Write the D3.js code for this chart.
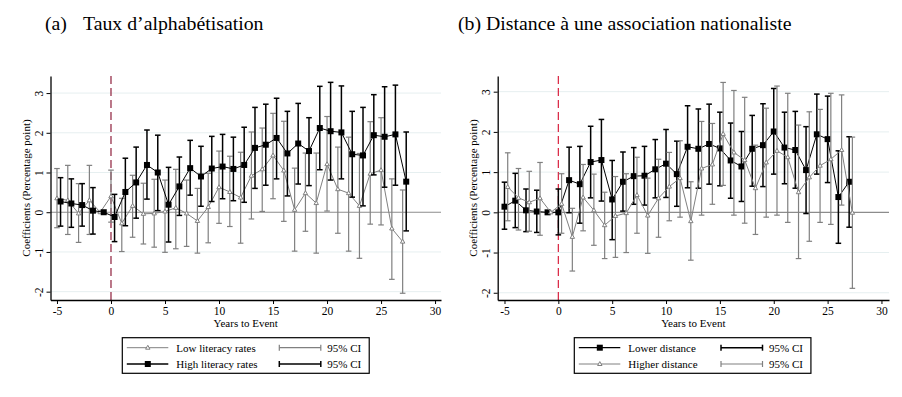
<!DOCTYPE html>
<html>
<head>
<meta charset="utf-8">
<script src="https://cdn.jsdelivr.net/npm/d3@7"></script>
<style>
  body { margin: 0; background: #fff; }
  text { font-family: "Liberation Serif", "Times New Roman", serif; fill: #000; }
</style>
</head>
<body>
<script>
// Years relative to the event (shared by all series)
const years = [-5, -4, -3, -2, -1, 0, 1, 2, 3, 4, 5, 6, 7, 8, 9, 10, 11, 12, 13, 14, 15, 16, 17, 18, 19, 20, 21, 22, 23, 24, 25, 26, 27]

// (a) Low literacy rates (gray)
const litLowCoef = [0.35, 0.30, -0.03, 0.30, 0, 0.40, -0.28, 0.16, -0.04, -0.03, 0.02, 0.11, -0.03, -0.22, 0.13, 0.63, 0.51, 0.37, 0.92, 1.08, 1.43, 1.05, 0.06, 0.48, 0.23, 1.21, 0.58, 0.48, 0.16, 0.97, 1.06, -0.41, -0.74]
const litLowHi = [1.10, 1.18, 0.72, 1.18, null, 1.06, 0.35, 0.93, 0.73, 0.83, 0.81, 1.08, 0.81, 0.60, 0.98, 1.54, 1.41, 1.51, 2.02, 2.12, 2.49, 2.29, 1.11, 1.49, 1.49, 2.41, 1.64, 1.89, 1.48, 2.28, 2.38, 0.84, 0.56]
const litLowLo = [-0.39, -0.56, -0.76, -0.56, null, -0.25, -0.99, -0.63, -0.80, -0.88, -1.01, -0.92, -0.86, -1.03, -0.77, -0.28, -0.36, -0.78, -0.17, 0.02, 0.34, -0.23, -0.98, -0.48, -1.03, 0.03, -0.53, -0.98, -1.16, -0.30, -0.32, -1.69, -2.04]

// (a) High literacy rates (black)
const litHighCoef = [0.27, 0.22, 0.18, 0.04, 0, -0.12, 0.51, 0.75, 1.19, 1.00, 0.19, 0.65, 1.11, 0.90, 1.10, 1.15, 1.09, 1.19, 1.62, 1.70, 1.87, 1.48, 1.73, 1.54, 2.12, 2.04, 2.01, 1.46, 1.43, 1.94, 1.90, 1.96, 0.77]
const litHighHi = [0.87, 0.84, 0.72, 0.62, null, 0.45, 1.36, 1.64, 2.07, 1.94, 1.13, 1.39, 1.81, 1.66, 1.91, 1.96, 1.89, 2.14, 2.64, 2.72, 2.87, 2.54, 2.74, 2.38, 3.17, 3.27, 3.18, 2.54, 2.64, 2.96, 3.16, 3.20, 2.02]
const litHighLo = [-0.35, -0.38, -0.35, -0.55, null, -0.74, -0.34, -0.15, 0.33, 0.04, -0.75, -0.08, 0.43, 0.15, 0.27, 0.34, 0.29, 0.25, 0.60, 0.68, 0.84, 0.41, 0.71, 0.67, 1.07, 0.81, 0.84, 0.38, 0.16, 0.94, 0.63, 0.68, -0.47]

// (b) Lower distance (black)
const distLowCoef = [0.14, 0.29, 0.05, 0.02, 0, 0, 0.80, 0.70, 1.25, 1.30, 0.32, 0.76, 0.90, 0.91, 1.07, 1.21, 0.95, 1.63, 1.58, 1.70, 1.59, 1.29, 1.14, 1.58, 1.67, 2.01, 1.61, 1.55, 1.05, 1.94, 1.82, 0.38, 0.76]
const distLowHi = [0.75, 0.97, 0.58, 0.55, null, 0.58, 1.62, 1.64, 2.14, 2.31, 1.29, 1.50, 1.61, 1.64, 1.81, 2.06, 1.77, 2.65, 2.57, 2.69, 2.49, 2.22, 2.01, 2.41, 2.70, 3.08, 2.49, 2.51, 2.13, 2.94, 2.89, 1.53, 1.88]
const distLowLo = [-0.42, -0.38, -0.48, -0.50, null, -0.56, -0.01, -0.27, 0.36, 0.28, -0.68, 0.03, 0.20, 0.18, 0.36, 0.37, 0.15, 0.61, 0.60, 0.70, 0.66, 0.35, 0.27, 0.65, 0.64, 0.95, 0.71, 0.60, -0.03, 0.95, 0.74, -0.77, -0.37]

// (b) Higher distance (gray)
const distHighCoef = [0.63, 0.36, 0.25, 0.35, 0, 0.21, -0.61, 0.37, 0.05, -0.32, -0.09, -0.02, 0.43, -0.08, 0.35, 0.64, 0.85, -0.22, 1.09, 1.19, 1.95, 1.49, 1.30, 0.60, 1.24, 1.53, 1.37, 0.50, 0.87, 1.16, 1.32, 1.55, -0.01]
const distHighHi = [1.48, 1.09, 1.02, 1.24, null, 0.96, 0.10, 1.19, 0.95, 0.50, 0.89, 0.96, 1.37, 0.85, 1.32, 1.49, 1.78, 0.76, 2.26, 2.21, 3.23, 3.03, 2.86, 1.67, 2.59, 3.14, 2.96, 2.17, 2.50, 2.56, 2.96, 2.92, 1.87]
const distHighLo = [-0.21, -0.44, -0.47, -0.57, null, -0.52, -1.46, -0.46, -0.82, -1.15, -1.12, -1.00, -0.52, -1.02, -0.62, -0.21, -0.12, -1.19, -0.07, 0.20, 0.67, -0.07, -0.27, -0.55, -0.12, -0.07, -0.25, -1.15, -0.72, -0.25, -0.30, 0.18, -1.89]

const xTicks = [-5, 0, 5, 10, 15, 20, 25, 30]
const yTicks = [-2, -1, 0, 1, 2, 3]

const gray = '#808080'
const fmt = d => String(d)

const svg = d3.select('body').append('svg').attr('width', 902).attr('height', 397)

function panel(p) {
	const x = d3.scaleLinear().domain(p.xDomain).range(p.xRange)
	const y = d3.scaleLinear().domain(p.yDomain).range([300, 76])
	const g = svg.append('g')

	// title
	const t = g.append('text').attr('y', 30).style('font-size', '19.8px')
	p.title.forEach(s => t.append('tspan').attr('x', s.x).text(s.t))

	// grid lines
	g.selectAll('.grid').data(yTicks.filter(d => d !== 0)).join('line')
		.attr('x1', p.xRange[0]).attr('x2', p.xRange[1])
		.attr('y1', d => y(d)).attr('y2', d => y(d))
		.attr('stroke', '#e6eff0').attr('stroke-width', 1)
	// zero line
	g.append('line').attr('x1', p.xRange[0]).attr('x2', p.xRange[1])
		.attr('y1', y(0)).attr('y2', y(0)).attr('stroke', '#8c8c8c').attr('stroke-width', 1.1)

	// event line
	g.append('line').attr('x1', x(0)).attr('x2', x(0)).attr('y1', 76).attr('y2', 300)
		.attr('stroke', p.eventColor).attr('stroke-width', 1.2).attr('stroke-dasharray', '8,4')

	// axes
	const xa = g.append('g').attr('transform', 'translate(0,300)')
		.call(d3.axisBottom(x).tickValues(xTicks).tickFormat(fmt).tickSize(4).tickSizeOuter(0))
	xa.select('.domain').attr('stroke', '#000').attr('stroke-width', 1.3)
	xa.selectAll('.tick line').attr('stroke', '#000')
	xa.selectAll('.tick text').attr('y', 7).style('font-size', '11.5px').style('font-family', '"Liberation Serif", serif')

	const ya = g.append('g').attr('transform', `translate(${p.xRange[0]},0)`)
		.call(d3.axisLeft(y).tickValues(yTicks).tickFormat(fmt).tickSize(4).tickSizeOuter(0))
	ya.select('.domain').attr('stroke', '#000').attr('stroke-width', 1.3)
	ya.selectAll('.tick line').attr('stroke', '#000')
	ya.selectAll('.tick text')
		.attr('x', null).attr('dy', null)
		.attr('transform', 'translate(-8,0) rotate(-90)')
		.attr('text-anchor', 'middle').attr('y', 0)
		.style('font-size', '11.5px').style('font-family', '"Liberation Serif", serif')

	// axis titles
	g.append('text').attr('x', (p.xRange[0] + p.xRange[1]) / 2).attr('y', 327)
		.attr('text-anchor', 'middle').style('font-size', '11px').text('Years to Event')
	g.append('text').attr('transform', `translate(${p.xRange[0] - 20.5},188) rotate(-90)`)
		.attr('text-anchor', 'middle').style('font-size', '11px').text('Coefficients (Percentage point)')

	// series
	p.series.forEach(s => {
		const pts = years.map((yr, i) => ({ x: yr + s.offset, c: s.coef[i], hi: s.hi[i], lo: s.lo[i] }))
		const sg = g.append('g')
		const ci = pts.filter(d => d.hi !== null)
		sg.selectAll('.bar').data(ci).join('line')
			.attr('x1', d => x(d.x)).attr('x2', d => x(d.x))
			.attr('y1', d => y(d.hi)).attr('y2', d => y(d.lo))
			.attr('stroke', s.color).attr('stroke-width', s.barWidth)
		sg.selectAll('.capHi').data(ci).join('line')
			.attr('x1', d => x(d.x) - 2.8).attr('x2', d => x(d.x) + 2.8)
			.attr('y1', d => y(d.hi)).attr('y2', d => y(d.hi))
			.attr('stroke', s.color).attr('stroke-width', s.barWidth)
		sg.selectAll('.capLo').data(ci).join('line')
			.attr('x1', d => x(d.x) - 2.8).attr('x2', d => x(d.x) + 2.8)
			.attr('y1', d => y(d.lo)).attr('y2', d => y(d.lo))
			.attr('stroke', s.color).attr('stroke-width', s.barWidth)
		sg.append('path').datum(pts)
			.attr('d', d3.line().x(d => x(d.x)).y(d => y(d.c)))
			.attr('fill', 'none').attr('stroke', s.color).attr('stroke-width', 1)
		drawMarkers(sg, pts.map(d => [x(d.x), y(d.c)]), s)
	})

	// legend
	const lg = g.append('g')
	const box = lg.append('rect').attr('x', p.legX).attr('y', 337.7).attr('height', 35.6)
		.attr('fill', '#fff').attr('stroke', '#000').attr('stroke-width', 1.2)
	let right = 0
	p.legend.forEach((s, i) => {
		const ly = 347.7 + i * 16.3
		lg.append('line').attr('x1', p.legX + 4.5).attr('x2', p.legX + 46).attr('y1', ly).attr('y2', ly)
			.attr('stroke', s.color).attr('stroke-width', s.marker === 'square' ? 1.3 : 1)
		drawMarkers(lg, [[p.legX + 25.5, ly]], s)
		lg.append('text').attr('x', p.legX + 54).attr('y', ly + 4).style('font-size', '11px').text(s.label)
		lg.append('line').attr('x1', p.legX + p.ciX).attr('x2', p.legX + p.ciX + 41.5).attr('y1', ly).attr('y2', ly)
			.attr('stroke', s.color).attr('stroke-width', s.barWidth)
		;[0, 41.5].forEach(dx => lg.append('line')
			.attr('x1', p.legX + p.ciX + dx).attr('x2', p.legX + p.ciX + dx).attr('y1', ly - 3).attr('y2', ly + 3)
			.attr('stroke', s.color).attr('stroke-width', s.barWidth))
		const ct = lg.append('text').attr('x', p.legX + p.ciX + 48).attr('y', ly + 4).style('font-size', '11px').text('95% CI')
		right = Math.max(right, p.legX + p.ciX + 48 + ct.node().getComputedTextLength())
	})
	box.attr('width', right + 8 - p.legX)
}

function drawMarkers(sel, pts, s) {
	if (s.marker === 'square') {
		sel.selectAll(null).data(pts).join('rect')
			.attr('x', d => d[0] - 3).attr('y', d => d[1] - 3).attr('width', 6).attr('height', 6)
			.attr('fill', s.color)
	} else {
		sel.selectAll(null).data(pts).join('path')
			.attr('d', d => `M${d[0]},${d[1] - 2.4}L${d[0] + 2.2},${d[1] + 1.5}L${d[0] - 2.2},${d[1] + 1.5}Z`)
			.attr('fill', '#fff').attr('stroke', s.color).attr('stroke-width', 1)
	}
}

const litLow = { label: 'Low literacy rates', coef: litLowCoef, hi: litLowHi, lo: litLowLo, offset: 0, color: gray, marker: 'triangle', barWidth: 1.2 }
const litHigh = { label: 'High literacy rates', coef: litHighCoef, hi: litHighHi, lo: litHighLo, offset: 0.33, color: '#000', marker: 'square', barWidth: 1.5 }
const distLow = { label: 'Lower distance', coef: distLowCoef, hi: distLowHi, lo: distLowLo, offset: 0, color: '#000', marker: 'square', barWidth: 1.5 }
const distHigh = { label: 'Higher distance', coef: distHighCoef, hi: distHighHi, lo: distHighLo, offset: 0.3, color: gray, marker: 'triangle', barWidth: 1.2 }

panel({
	title: [{ x: 45, t: '(a)' }, { x: 83, t: 'Taux d’alphabétisation' }],
	xDomain: [-5.6, 30.55], xRange: [50.5, 441],
	yDomain: [-2.21, 3.43],
	eventColor: '#8e1f3b',
	series: [litLow, litHigh],
	legend: [litLow, litHigh],
	legX: 122.3, ciX: 157
})

panel({
	title: [{ x: 458, t: '(b) Distance à une association nationaliste' }],
	xDomain: [-5.63, 30.7], xRange: [497.7, 889],
	yDomain: [-2.18, 3.39],
	eventColor: '#d9213f',
	series: [distLow, distHigh],
	legend: [distLow, distHigh],
	legX: 574.3, ciX: 146.7
})
</script>
</body>
</html>
